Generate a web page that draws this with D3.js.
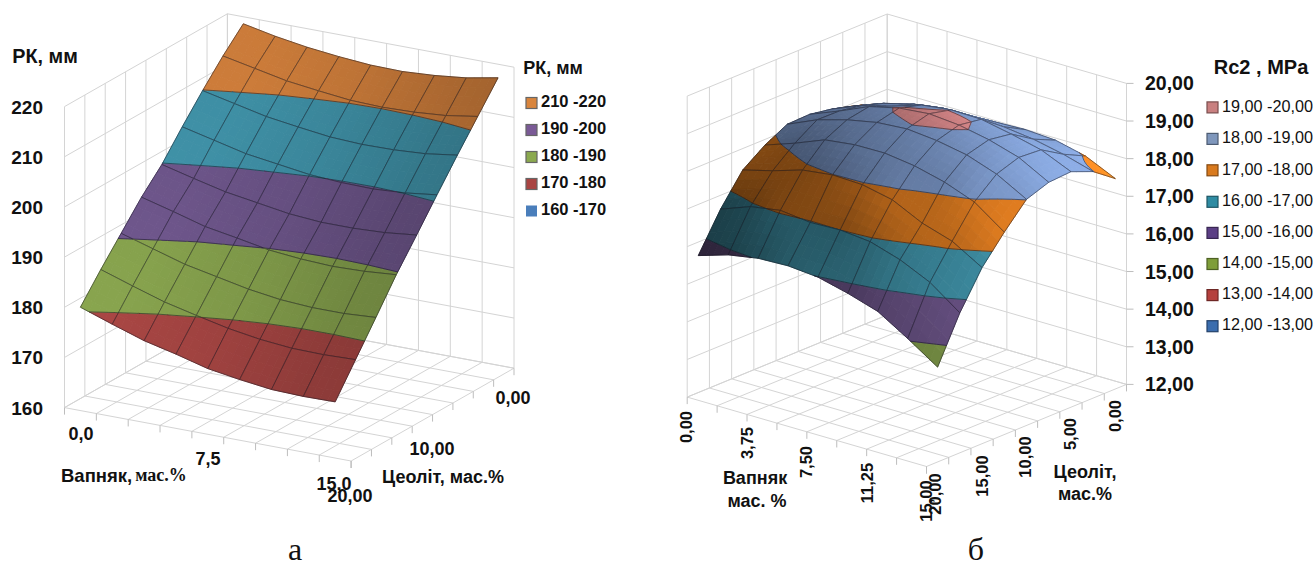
<!DOCTYPE html>
<html>
<head>
<meta charset="utf-8">
<script src="https://cdn.jsdelivr.net/npm/d3@7/dist/d3.min.js"></script>
<style>
  html, body { margin: 0; background: #fff; }
  svg { display: block; }
  text { font-family: "Liberation Sans", Arial, sans-serif; fill: #111; }
</style>
</head>
<body>
<div id="chart"></div>
<script>
// Chart a: РК, мм. Rows run from Цеоліт 20 (front) to 0 (back), columns from Вапняк 0 to 15
const rkValues = [
  [180.6, 178.4, 176.3, 174.8, 173.1, 172.1, 171.3, 171.1, 171.2],
  [185.8, 183.7, 181.7, 180.2, 178.8, 177.8, 177.2, 177.1, 177.3],
  [190.7, 188.8, 186.9, 185.6, 184.3, 183.4, 183.0, 183.0, 183.4],
  [195.6, 193.9, 192.1, 191.0, 189.8, 189.2, 188.9, 189.1, 189.6],
  [199.8, 198.2, 196.7, 195.7, 194.7, 194.2, 194.2, 194.5, 195.2],
  [205.0, 203.5, 202.0, 201.1, 200.2, 199.8, 199.7, 200.1, 200.9],
  [209.9, 208.5, 207.1, 206.2, 205.4, 205.1, 205.2, 205.6, 206.5],
  [214.5, 213.2, 211.9, 211.1, 210.4, 210.2, 210.4, 210.9, 211.9],
  [218.6, 217.3, 216.3, 215.6, 215.1, 215.0, 215.4, 216.1, 217.3]
];
const rkTicks = [160, 170, 180, 190, 200, 210, 220];
const rkBandColors = ['#4F81BD', '#C0504D', '#9BBB59', '#8064A2', '#4BACC6', '#F79646'];
const rkLegendLabels = ['210 -220', '190 -200', '180 -190', '170 -180', '160 -170'];
const rkLegendColors = ['#D9853D', '#7A5A96', '#8BA94F', '#A94442', '#4A7EBB'];

// Chart b: Rc2, MPa. Rows run from Цеоліт 20 (front) to 0 (back), columns from Вапняк 0 to 15
const rcValues = [
  [15.64, 15.89, 16.03, 16.06, 15.99, 15.79, 15.54, 15.05, 14.52],
  [16.63, 16.93, 17.06, 16.97, 17.00, 16.92, 16.67, 16.30, 15.72],
  [17.43, 17.64, 17.89, 17.99, 17.96, 17.79, 17.40, 17.15, 16.68],
  [17.85, 18.13, 18.45, 18.55, 18.56, 18.45, 18.25, 17.95, 17.38],
  [18.16, 18.51, 18.74, 18.90, 18.96, 18.88, 18.73, 18.45, 18.01],
  [18.18, 18.50, 18.85, 19.04, 19.12, 19.05, 18.89, 18.65, 18.22],
  [18.08, 18.40, 18.62, 18.88, 18.98, 18.96, 18.80, 18.61, 18.26],
  [17.92, 18.22, 18.43, 18.55, 18.56, 18.52, 18.42, 18.25, 18.02],
  [17.73, 17.92, 18.06, 18.13, 18.17, 18.20, 18.15, 17.96, 17.59]
];
const rcTicks = [12, 13, 14, 15, 16, 17, 18, 19, 20];
const rcBandColors = ['#4F81BD', '#C0504D', '#9BBB59', '#8064A2', '#4BACC6', '#FC8C24', '#8EAFE8', '#F59A9C'];
const rcLegendLabels = ['19,00 -20,00', '18,00 -19,00', '17,00 -18,00', '16,00 -17,00', '15,00 -16,00', '14,00 -15,00', '13,00 -14,00', '12,00 -13,00'];
const rcLegendColors = ['#C98080', '#7F97BC', '#D97A1E', '#2F8CA3', '#5C3F85', '#7F9E3A', '#B5403D', '#3B6DAE'];

const width = 1316;
const height = 567;
const subSteps = 4;

const svg = d3.select('#chart').append('svg')
  .attr('width', width)
  .attr('height', height);

const line = d3.line();

function drawChart(opts) {
  const g = svg.append('g');
  const [ox, oy] = opts.left;
  const ux = opts.front[0] - ox, uy = opts.front[1] - oy;
  const wx = opts.right[0] - opts.front[0], wy = opts.right[1] - opts.front[1];

  // Value scale: pixels above the floor
  const zScale = d3.scaleLinear().domain(d3.extent(opts.ticks)).range([0, opts.wallHeight]);
  const project = (u, w, v) => [ox + ux * u + wx * w, oy + uy * u + wy * w - zScale(v)];
  const zMin = opts.ticks[0];
  const zMax = opts.ticks[opts.ticks.length - 1];

  // Walls and floor
  const grid = [];
  const uCuts = d3.range(opts.uDivs + 1).map(d => d / opts.uDivs);
  const wCuts = d3.range(opts.wDivs + 1).map(d => d / opts.wDivs);
  uCuts.forEach(u => {
    grid.push([project(u, 0, zMin), project(u, 1, zMin)]);
    grid.push([project(u, 1, zMin), project(u, 1, zMax)]);
  });
  wCuts.forEach(w => {
    grid.push([project(0, w, zMin), project(1, w, zMin)]);
    grid.push([project(0, w, zMin), project(0, w, zMax)]);
  });
  opts.ticks.forEach(t => {
    grid.push([project(0, 0, t), project(0, 1, t)]);
    grid.push([project(0, 1, t), project(1, 1, t)]);
  });
  g.append('g').selectAll('path')
    .data(grid)
    .join('path')
    .attr('d', line)
    .attr('fill', 'none')
    .attr('stroke', '#d4d4d4')
    .attr('stroke-width', 1);

  // Tick marks under the two floor axes
  const marks = [];
  uCuts.forEach(u => {
    const p = project(u, 0, zMin);
    marks.push([p, [p[0], p[1] + 7]]);
  });
  wCuts.forEach(w => {
    const p = project(1, w, zMin);
    marks.push([p, [p[0], p[1] + 7]]);
  });
  if (opts.zTickSide) {
    opts.ticks.forEach(t => {
      const p = project(1, 1, t);
      marks.push([p, [p[0] + 7, p[1]]]);
    });
  }
  g.append('g').selectAll('path')
    .data(marks)
    .join('path')
    .attr('d', line)
    .attr('fill', 'none')
    .attr('stroke', '#bdbdbd')
    .attr('stroke-width', 1);

  // Surface
  const values = opts.values;
  const rows = values.length, cols = values[0].length;
  const bandStep = opts.ticks[1] - opts.ticks[0];
  const pxPerU = Math.abs(ux) * Math.abs(opts.uAt(1) - opts.uAt(0));
  const pxPerW = Math.abs(wx) * Math.abs(opts.wAt(1) - opts.wAt(0));
  const pxPerUnit = opts.wallHeight / (zMax - zMin);

  // slopes at each node decide how bright the surface is
  const slopesU = values.map(row => row.map((v, i) => {
    const lo = Math.max(0, i - 1), hi = Math.min(cols - 1, i + 1);
    return (row[hi] - row[lo]) / (hi - lo) * pxPerUnit / pxPerU;
  }));
  const slopesW = values.map((row, j) => row.map((v, i) => {
    const lo = Math.max(0, j - 1), hi = Math.min(rows - 1, j + 1);
    return (values[hi][i] - values[lo][i]) / (hi - lo) * pxPerUnit / pxPerW;
  }));

  const bilerp = (grid2, i, j, fi, fj) =>
    grid2[j][i] * (1 - fi) * (1 - fj) + grid2[j][i + 1] * fi * (1 - fj) +
    grid2[j + 1][i] * (1 - fi) * fj + grid2[j + 1][i + 1] * fi * fj;

  function clip(poly, level, keepAbove) {
    const out = [];
    poly.forEach((p, k) => {
      const q = poly[(k + 1) % poly.length];
      const pIn = keepAbove ? p[2] >= level : p[2] <= level;
      const qIn = keepAbove ? q[2] >= level : q[2] <= level;
      if (pIn) out.push(p);
      if (pIn !== qIn) {
        const t = (level - p[2]) / (q[2] - p[2]);
        out.push([p[0] + (q[0] - p[0]) * t, p[1] + (q[1] - p[1]) * t, level]);
      }
    });
    return out;
  }

  const items = [];
  const toPts = poly => poly.map(p => project(p[0], p[1], p[2]));

  // painter's order: back row first, left to right
  for (let j = rows - 2; j >= 0; j--) {
    for (let i = 0; i < cols - 1; i++) {
      const contour = [];
      for (let sj = subSteps - 1; sj >= 0; sj--) {
        for (let si = 0; si < subSteps; si++) {
          const corner = (a, b) => {
            const fi = (si + a) / subSteps, fj = (sj + b) / subSteps;
            return [
              opts.uAt(i + fi), opts.wAt(j + fj),
              bilerp(values, i, j, fi, fj)
            ];
          };
          const quad = [corner(0, 0), corner(1, 0), corner(1, 1), corner(0, 1)];
          const fc = (si + 0.5) / subSteps, fr = (sj + 0.5) / subSteps;
          const shade = opts.shade[0]
            - opts.shade[1] * bilerp(slopesU, i, j, fc, fr)
            - opts.shade[2] * bilerp(slopesW, i, j, fc, fr);
          opts.bandColors.forEach((color, b) => {
            const lo = zMin + b * bandStep, hi = lo + bandStep;
            let poly = clip(quad, lo, true);
            if (poly.length) poly = clip(poly, hi, false);
            if (poly.length < 3) return;
            const c = d3.rgb(color);
            const fill = d3.rgb(c.r * shade, c.g * shade, c.b * shade).formatHex();
            items.push({ d: line(toPts(poly)) + 'Z', fill, stroke: fill, w: 0.9 });
            poly.forEach((p, k) => {
              const q = poly[(k + 1) % poly.length];
              if (p[2] === q[2] && p[2] === hi && hi < zMax) contour.push([p, q]);
            });
          });
        }
      }
      contour.forEach(seg => {
        items.push({ d: line(toPts(seg)), fill: 'none', stroke: 'rgba(20,20,30,0.65)', w: 0.8 });
      });
      // cell outline
      const outline = [
        [opts.uAt(i), opts.wAt(j), values[j][i]],
        [opts.uAt(i + 1), opts.wAt(j), values[j][i + 1]],
        [opts.uAt(i + 1), opts.wAt(j + 1), values[j + 1][i + 1]],
        [opts.uAt(i), opts.wAt(j + 1), values[j + 1][i]]
      ];
      items.push({ d: line(toPts(outline)) + 'Z', fill: 'none', stroke: 'rgba(20,20,30,0.6)', w: 0.8 });
    }
  }

  g.append('g').selectAll('path')
    .data(items)
    .join('path')
    .attr('d', d => d.d)
    .attr('fill', d => d.fill)
    .attr('stroke', d => d.stroke)
    .attr('stroke-width', d => d.w)
    .attr('stroke-linejoin', 'round');

  // Value axis labels
  g.append('g').selectAll('text')
    .data(opts.ticks)
    .join('text')
    .attr('x', opts.zLabelX)
    .attr('y', d => project(opts.zTickSide ? 1 : 0, opts.zTickSide ? 1 : 0, d)[1] + 7)
    .attr('text-anchor', opts.zLabelAnchor)
    .attr('font-size', opts.tickFont)
    .attr('font-weight', 700)
    .text(opts.zFormat);
}

function addTexts(rows) {
  svg.append('g').selectAll('text')
    .data(rows)
    .join('text')
    .attr('transform', d => `translate(${d[1]},${d[2]})` + (d[6] ? ` rotate(${d[6]})` : ''))
    .attr('text-anchor', d => d[5] || 'middle')
    .attr('dominant-baseline', 'middle')
    .attr('font-size', d => d[3])
    .attr('font-weight', d => d[4] ? 700 : 400)
    .text(d => d[0]);
}

function addLegend(labels, colors, x, textX, ys, fontSize, bold, border) {
  const g = svg.append('g');
  g.selectAll('rect')
    .data(labels)
    .join('rect')
    .attr('x', x)
    .attr('y', (d, i) => ys[i] - 5.5)
    .attr('width', 11)
    .attr('height', 11)
    .attr('fill', (d, i) => colors[i])
    .attr('stroke', (d, i) => border ? d3.rgb(colors[i]).darker(1.4) : '#666')
    .attr('stroke-width', d => d === '160 -170' ? 0 : 1.2);
  g.selectAll('text')
    .data(labels)
    .join('text')
    .attr('x', textX)
    .attr('y', (d, i) => ys[i])
    .attr('dominant-baseline', 'middle')
    .attr('font-size', fontSize)
    .attr('font-weight', bold ? 700 : 400)
    .text(d => d);
}

drawChart({
  left: [64.5, 407.6], front: [351.1, 461], right: [514, 368.2],
  wallHeight: 301, ticks: rkTicks, values: rkValues, bandColors: rkBandColors,
  uDivs: 9, wDivs: 8,
  uAt: d3.scaleLinear().domain([-0.5, 8.5]).range([0, 1]),
  wAt: d3.scaleLinear().domain([0, 8]).range([0, 1]),
  shade: [0.74, 0.41, 0],
  zLabelX: 43, zLabelAnchor: 'end', tickFont: 19, zFormat: d => d, zTickSide: false
});

drawChart({
  left: [687.2, 397.1], front: [926.5, 466.5], right: [1126.5, 384.4],
  wallHeight: 301, ticks: rcTicks, values: rcValues, bandColors: rcBandColors,
  uDivs: 8, wDivs: 9,
  uAt: d3.scaleLinear().domain([0, 8]).range([0, 1]),
  wAt: d3.scaleLinear().domain([-0.5, 8.5]).range([0, 1]),
  shade: [0.78, 0.42, 0.17],
  zLabelX: 1145, zLabelAnchor: 'start', tickFont: 19.5,
  zFormat: d => d.toFixed(2).replace('.', ','), zTickSide: true
});

addLegend(rkLegendLabels, rkLegendColors, 526, 541, [103, 130, 157, 184, 211], 16.5, true, false);
addLegend(rcLegendLabels, rcLegendColors, 1207, 1222, [107.4, 138.9, 170.3, 201.8, 232.9, 264, 295.1, 326.2], 16.2, false, true);

// label, x, y, font size, bold, anchor, rotation
addTexts([
  ['РК, мм', 45, 58, 19.8, true],
  ['РК, мм', 553, 69, 18, true],
  ['0,0', 81, 435, 18, true],
  ['7,5', 208, 460, 18, true],
  ['15,0', 334, 485, 18, true],
  ['0,00', 513, 399, 18, true],
  ['10,00', 432, 450, 18, true],
  ['20,00', 350, 497, 18, true],
  ['Цеоліт, мас.%', 443, 478, 18, true],
  ['Rc2 , MPa', 1261, 69, 20, true],
  ['0,00', 688, 427, 16.5, true, 'middle', -90],
  ['3,75', 749, 443, 16.5, true, 'middle', -90],
  ['7,50', 808, 462, 16.5, true, 'middle', -90],
  ['11,25', 869, 483, 16.5, true, 'middle', -90],
  ['15,00', 928, 501, 16.5, true, 'middle', -90],
  ['0,00', 1117, 416, 16.5, true, 'middle', -90],
  ['5,00', 1072, 434, 16.5, true, 'middle', -90],
  ['10,00', 1027, 457, 16.5, true, 'middle', -90],
  ['15,00', 984, 476, 16.5, true, 'middle', -90],
  ['20,00', 937, 494, 16.5, true, 'middle', -90],
  ['Вапняк', 755, 479, 18, true],
  ['мас. %', 757, 502, 18, true],
  ['Цеоліт,', 1085, 473, 18, true],
  ['мас.%', 1085, 495, 18, true]
]);

// Axis title with the serif unit, as in the original
const vapniak = svg.append('text').attr('x', 61).attr('y', 477).attr('dominant-baseline', 'middle').attr('font-weight', 700);
vapniak.append('tspan').attr('font-size', 18.5).text('Вапняк,');
vapniak.append('tspan').attr('font-size', 18).style('font-family', '"Liberation Serif", serif').attr('dx', 3).text('мас.%');

svg.selectAll('text.panel')
  .data([['а', 295, 560], ['б', 976, 560]])
  .join('text')
  .attr('class', 'panel')
  .attr('x', d => d[1])
  .attr('y', d => d[2])
  .attr('text-anchor', 'middle')
  .attr('font-size', 32)
  .style('font-family', '"Liberation Serif", serif')
  .text(d => d[0]);
</script>
</body>
</html>
